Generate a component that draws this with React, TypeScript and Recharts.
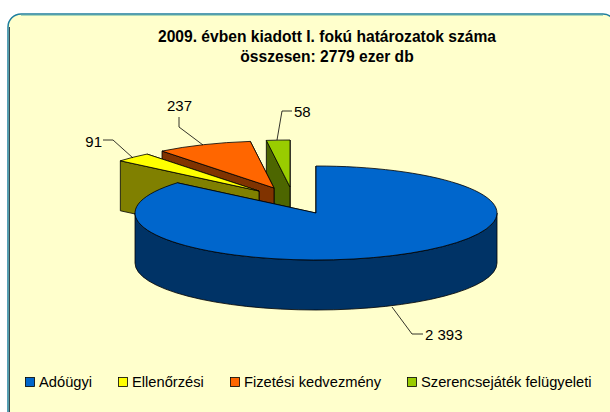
// 2009 first-instance decisions, exploded 3D pie. Recharts has no 3D pie, so the
// Pie only computes the angles and a custom shape squashes each sector into an ellipse.
import { Pie, PieChart } from 'recharts';

const categories = ['Adóügyi', 'Ellenőrzési', 'Fizetési kedvezmény', 'Szerencsejáték felügyeleti'];
const values = [2393, 91, 237, 58];
const valueLabels = ['2 393', '91', '237', '58'];
const titleLines = ['2009. évben kiadott I. fokú határozatok száma', 'összesen: 2779 ezer db'];

const COLORS = ['#0066CC', '#FFFF00', '#FF6600', '#99CC00'];
const WALLS = ['#003366', '#808000', '#803300', '#4D6600'];

const WIDTH = 610;
const HEIGHT = 412;
const CX = 316;
const CY = 213;
const RX = 181;
const RY = 47;
const DEPTH = 50;
const FONT = '"Liberation Sans", Arial, sans-serif';

// explosion offset of each slice on screen, same order as categories
const OFFSETS = [
  [0, 0],
  [-57, -22],
  [-42, -25],
  [-26, -26],
];

// leader line and text anchor of each value label, same order as categories
const LEADERS = [
  { line: '392,307 412,334 423,334', x: 425, y: 340, anchor: 'start' },
  { line: '133,158 113,140 103,140', x: 102, y: 147, anchor: 'end' },
  { line: '203,145 179,127 179,117', x: 179.5, y: 111, anchor: 'middle' },
  { line: '277,140 282,111 292,111', x: 294, y: 117, anchor: 'start' },
];

// Recharts draws slices in data order, and the far slices must go first,
// so the data runs backwards around the circle
const pieData = categories
  .map((name, i) => ({ name, value: values[i], index: i }))
  .reverse();

function pt(angle: number, dx: number, dy: number, drop = 0) {
  const rad = (angle * Math.PI) / 180;
  return [CX + dx + RX * Math.cos(rad), CY + dy - RY * Math.sin(rad) + drop];
}

function Slice3D(props: any) {
  const { startAngle, endAngle, payload } = props;
  const i = payload.index;
  const [dx, dy] = OFFSETS[i];
  const apex = [CX + dx, CY + dy];
  const large = endAngle - startAngle > 180 ? 1 : 0;
  const a = pt(startAngle, dx, dy);
  const b = pt(endAngle, dx, dy);

  const face = (p: number[]) =>
    `M${apex[0]},${apex[1]} L${p[0]},${p[1]} L${p[0]},${p[1] + DEPTH} L${apex[0]},${apex[1] + DEPTH} Z`;

  // outer wall only shows on the front half of the ellipse
  const wallFrom = Math.max(startAngle, 180);
  const wallTo = Math.min(endAngle, 360);
  let wall = '';
  if (wallTo > wallFrom) {
    const w1 = pt(wallFrom, dx, dy);
    const w2 = pt(wallTo, dx, dy);
    wall =
      `M${w1[0]},${w1[1]} A${RX},${RY} 0 0 0 ${w2[0]},${w2[1]} ` +
      `L${w2[0]},${w2[1] + DEPTH} A${RX},${RY} 0 0 1 ${w1[0]},${w1[1] + DEPTH} Z`;
  }

  return (
    <g>
      <path d={face(a)} fill={WALLS[i]} stroke="#000" strokeWidth={0.8} />
      <path d={face(b)} fill={WALLS[i]} stroke="#000" strokeWidth={0.8} />
      {wall && <path d={wall} fill={WALLS[i]} stroke="#000" strokeWidth={0.8} />}
      <path
        d={`M${apex[0]},${apex[1]} L${a[0]},${a[1]} A${RX},${RY} 0 ${large} 0 ${b[0]},${b[1]} Z`}
        fill={COLORS[i]}
        stroke="#000"
        strokeWidth={0.8}
      />
    </g>
  );
}

function ValueLabel(props: any) {
  const i = props.payload.index;
  const l = LEADERS[i];
  return (
    <g>
      <polyline points={l.line} fill="none" stroke="#000" strokeWidth={0.8} />
      <text x={l.x} y={l.y} textAnchor={l.anchor as any} fontFamily={FONT} fontSize={15} fill="#000">
        {valueLabels[i]}
      </text>
    </g>
  );
}

const LEGEND_X = [25, 118, 230, 407];

export default function App() {
  return (
    <div style={{ position: 'absolute', left: 0, top: 0, width: WIDTH, height: HEIGHT, background: '#fff', overflow: 'hidden' }}>
      <PieChart width={WIDTH} height={HEIGHT} margin={{ top: 0, right: 0, bottom: 0, left: 0 }}>
        <rect x={8} y={14} width={608} height={410} rx={13} fill="#FFFFCC" stroke="#1F7F9F" strokeWidth={1.5} />
        <line x1={9.5} y1={27} x2={9.5} y2={412} stroke="#3A4A50" strokeWidth={1} />
        <line x1={21} y1={15.5} x2={603} y2={15.5} stroke="#A8D8B8" strokeWidth={1} />
        {titleLines.map((t, i) => (
          <text key={t} x={327} y={42 + i * 19.5} textAnchor="middle" fontFamily={FONT} fontWeight={700} fontSize={15.6} fill="#000">
            {t}
          </text>
        ))}
        <Pie
          data={pieData}
          dataKey="value"
          nameKey="name"
          cx={CX}
          cy={CY}
          innerRadius={0}
          outerRadius={RX}
          startAngle={90}
          endAngle={450}
          stroke="none"
          shape={Slice3D}
          label={ValueLabel}
          labelLine={false}
          isAnimationActive={false}
        />
        {categories.map((c, i) => (
          <g key={c}>
            <rect x={LEGEND_X[i] + 0.5} y={377.5} width={9} height={9} fill={COLORS[i]} stroke="#000" strokeWidth={0.8} />
            <text x={LEGEND_X[i] + 14} y={387} fontFamily={FONT} fontSize={14.7} fill="#000">
              {c}
            </text>
          </g>
        ))}
      </PieChart>
    </div>
  );
}
